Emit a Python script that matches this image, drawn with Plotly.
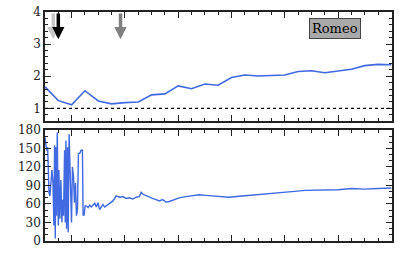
import plotly.graph_objects as go
from plotly.subplots import make_subplots

# ---- data ----
top_x = list(range(27))
top_y = [1.67, 1.24, 1.11, 1.55, 1.23, 1.14, 1.18, 1.20, 1.42, 1.45, 1.70, 1.61, 1.76, 1.72,
         1.96, 2.04, 2.01, 2.02, 2.04, 2.15, 2.17, 2.11, 2.16, 2.22, 2.33, 2.37, 2.36]

bot_x = [0.00, 0.12, 0.20, 0.30, 0.37, 0.45, 0.52, 0.60, 0.67, 0.72, 0.77, 0.82, 0.87, 0.92,
         1.00, 1.04, 1.12, 1.19, 1.27, 1.32, 1.39, 1.47, 1.52, 1.57, 1.62, 1.69, 1.74, 1.81,
         1.92, 1.99, 2.06, 2.14, 2.21, 2.29, 2.36, 2.44, 2.51, 2.61, 2.71, 2.81, 2.86, 2.94,
         3.01, 3.11, 3.24, 3.36, 3.48, 3.61, 3.74, 3.86, 3.98, 4.10, 4.23, 4.35, 4.48, 4.60,
         4.72, 4.85, 5.10, 5.35, 5.60,
         5.84, 6.10, 6.34, 6.59, 6.84, 7.09, 7.22, 7.39, 7.56, 7.84, 8.08, 8.34, 8.58, 8.83,
         9.08, 9.33, 9.58, 10.07, 10.57, 11.07, 11.57, 12.07, 12.81, 13.81, 14.80, 16.04,
         17.29, 18.53, 19.53, 21.02, 22.01, 23.01, 24.00, 25.00, 26.00]
bot_y = [168, 147, 152, 78, 73, 105, 115, 94, 25, 155, 4, 152, 41, 176,
         25, 115, 36, 99, 30, 67, 41, 147, 30, 163, 20, 152, 14, 173,
         51, 30, 120, 105, 62, 94, 41, 51, 142, 142, 147, 147, 42, 42,
         57, 57, 54, 58, 55, 59, 61, 55, 62, 51, 56, 59, 55, 57,
         60, 62, 65, 73, 71,
         72, 69, 70, 68, 71, 72, 79, 75, 74, 72, 69, 67, 65, 67,
         63, 64, 66, 70, 72, 73, 75, 74, 73, 71, 73, 75,
         77, 80, 82, 82, 83, 85, 84, 85, 86]

ref_level = 1
label_text = "Romeo"
arrow_x = [0.62, 1.0, 5.67]
arrow_colors = ["#c8c8c8", "#000000", "#808080"]

# ---- figure ----
FONT = "DejaVu Serif"
BLUE = "#4169E1"
fig = make_subplots(rows=2, cols=1, shared_xaxes=False, vertical_spacing=0.038)

fig.add_trace(go.Scatter(x=top_x, y=top_y, mode="lines",
                         line=dict(color=BLUE, width=1.6), showlegend=False), row=1, col=1)
fig.add_trace(go.Scatter(x=bot_x, y=bot_y, mode="lines",
                         line=dict(color=BLUE, width=1.4), showlegend=False), row=2, col=1)

fig.add_shape(type="line", xref="x domain", yref="y", x0=0, x1=1, y0=ref_level, y1=ref_level,
              line=dict(color="black", width=1.3, dash="dot"))

for ax_x, col in zip(arrow_x, arrow_colors):
    fig.add_annotation(x=ax_x, y=3.15, ax=ax_x, ay=4.0, xref="x", yref="y", axref="x", ayref="y",
                       text="", showarrow=True, arrowhead=2, arrowsize=0.7, arrowwidth=3.5,
                       arrowcolor=col)

fig.add_annotation(x=0.837, y=0.849, xref="x domain", yref="y domain", text=label_text,
                   xanchor="center", yanchor="middle",
                   showarrow=False, font=dict(family=FONT, size=13, color="black"),
                   bgcolor="#a9a9a9", bordercolor="#444444", borderwidth=1, borderpad=2)

axis_common = dict(showline=True, linecolor="#222222", linewidth=1.5, mirror="ticks",
                   ticks="inside", tickcolor="#222222", showgrid=False, zeroline=False,
                   tickfont=dict(family=FONT, size=12, color="#222222"))

xcommon = dict(axis_common, range=[0, 26.05], tick0=2, dtick=4, ticklen=6, showticklabels=False,
               minor=dict(ticks="inside", dtick=1, tick0=0, ticklen=3, tickcolor="#222222"))
fig.update_xaxes(**xcommon, row=1, col=1)
fig.update_xaxes(**xcommon, row=2, col=1)

fig.update_yaxes(**axis_common, range=[0.6, 4], dtick=1, ticklen=6,
                 minor=dict(ticks="inside", dtick=0.2, ticklen=3, tickcolor="#222222"), row=1, col=1)
fig.update_yaxes(**axis_common, range=[0, 180], dtick=30, ticklen=6,
                 minor=dict(ticks="inside", dtick=10, ticklen=3, tickcolor="#222222"), row=2, col=1)

fig.update_layout(width=399, height=277, margin=dict(l=45, r=5, t=5, b=36),
                  paper_bgcolor="white", plot_bgcolor="white")
fig.update_layout(yaxis=dict(domain=[0.523, 1.0]), yaxis2=dict(domain=[0.0, 0.485]))

fig.write_html("out.html", config={"displayModeBar": False},
               post_script="document.body.style.margin='0';document.body.style.overflow='hidden';")
